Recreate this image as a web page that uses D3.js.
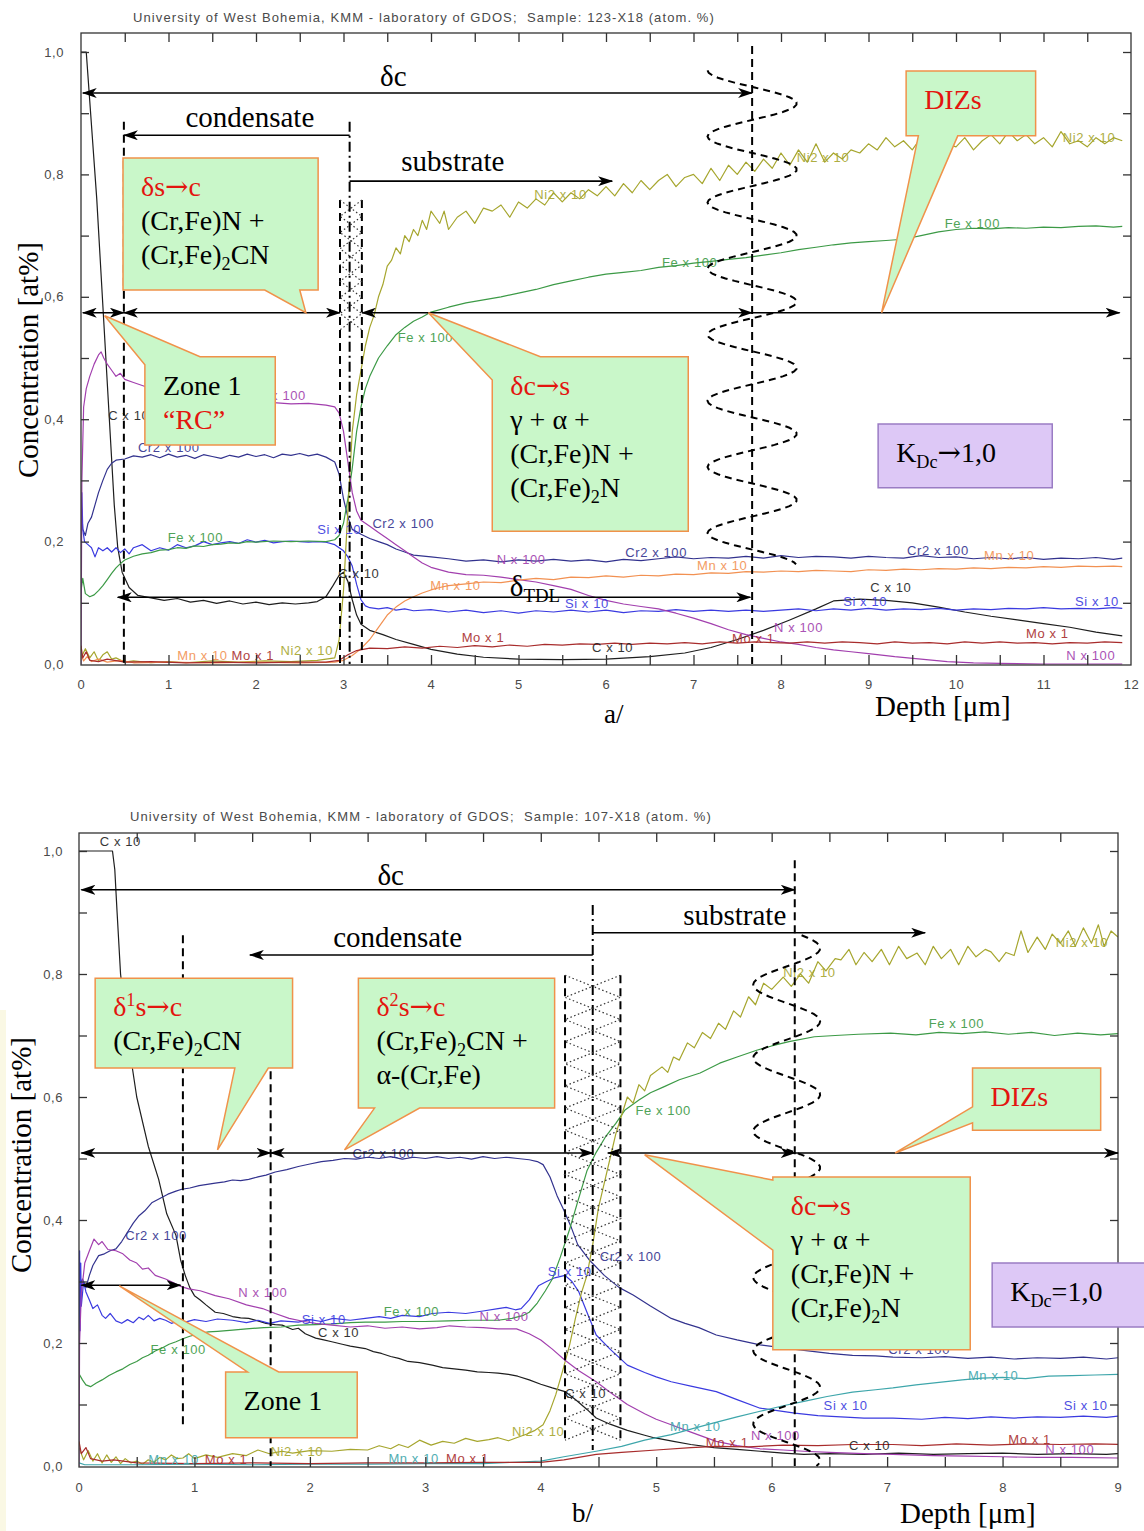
<!DOCTYPE html>
<html>
<head>
<meta charset="utf-8">
<script src="https://cdn.jsdelivr.net/npm/d3@7"></script>
<style>
  body { margin: 0; background: #fff; }
  svg { display: block; }
  .small { font-family: Arial, "Liberation Sans", sans-serif; font-size: 13px; letter-spacing: 0.6px; }
  .title { font-family: Arial, "Liberation Sans", sans-serif; font-size: 13px; letter-spacing: 1.1px; }
  .serif { font-family: "Liberation Serif", "Times New Roman", serif; }
</style>
</head>
<body>
<script>
// ---------- a/ : sample 123-X18, depth 0..12 um  ([depth, concentration])
const topC = [[0,1.0],[0.06,1.0],[0.08,0.96],[0.1,0.92],[0.14,0.84],[0.18,0.76],[0.22,0.66],[0.26,0.56],[0.3,0.46],[0.34,0.36],[0.38,0.26],[0.42,0.19],[0.47,0.15],[0.55,0.125],[0.65,0.112],[0.8,0.108],[0.95,0.104],[1.1,0.107],[1.25,0.101],[1.4,0.104],[1.55,0.099],[1.7,0.103],[1.85,0.098],[2.0,0.101],[2.15,0.097],[2.3,0.1],[2.45,0.098],[2.6,0.1],[2.7,0.102],[2.8,0.11],[2.88,0.128],[2.95,0.145],[3.0,0.15],[3.05,0.135],[3.1,0.105],[3.15,0.08],[3.2,0.065],[3.3,0.055],[3.45,0.048],[3.6,0.04],[3.8,0.032],[4.0,0.024],[4.3,0.016],[4.6,0.011],[5.0,0.008],[5.5,0.007],[6.0,0.008],[6.5,0.012],[6.9,0.018],[7.2,0.027],[7.5,0.04],[7.8,0.055],[8.1,0.072],[8.4,0.09],[8.6,0.103],[8.9,0.106],[9.2,0.104],[9.5,0.1],[9.8,0.093],[10.1,0.085],[10.4,0.078],[10.7,0.072],[11.0,0.066],[11.3,0.06],[11.6,0.052],[11.9,0.046]]
const topCr2 = [[0,0.27],[0.02,0.22],[0.05,0.21],[0.08,0.23],[0.12,0.24],[0.16,0.26],[0.2,0.28],[0.25,0.3],[0.3,0.318],[0.35,0.328],[0.4,0.333],[0.5,0.335],[0.6,0.34],[0.7,0.338],[0.8,0.342],[0.9,0.337],[1.0,0.343],[1.1,0.338],[1.2,0.341],[1.3,0.336],[1.4,0.342],[1.5,0.339],[1.6,0.336],[1.7,0.341],[1.8,0.338],[1.9,0.343],[2.0,0.339],[2.1,0.342],[2.2,0.337],[2.3,0.343],[2.4,0.341],[2.5,0.344],[2.6,0.34],[2.7,0.343],[2.8,0.338],[2.9,0.33],[2.95,0.31],[3.0,0.27],[3.05,0.24],[3.1,0.22],[3.2,0.212],[3.3,0.205],[3.4,0.2],[3.5,0.195],[3.6,0.188],[3.7,0.183],[3.8,0.178],[4.0,0.175],[4.2,0.172],[4.4,0.168],[4.6,0.17],[4.8,0.167],[5.0,0.17],[5.2,0.168],[5.4,0.171],[5.6,0.168],[5.8,0.17],[6.0,0.167],[6.2,0.171],[6.4,0.169],[6.6,0.172],[6.8,0.175],[7.0,0.172],[7.2,0.174],[7.4,0.173],[7.6,0.176],[7.8,0.173],[8.0,0.177],[8.2,0.174],[8.4,0.176],[8.6,0.175],[8.8,0.173],[9.0,0.176],[9.2,0.174],[9.4,0.173],[9.6,0.177],[9.8,0.174],[10.0,0.175],[10.2,0.172],[10.4,0.174],[10.6,0.172],[10.8,0.174],[11.0,0.171],[11.2,0.173],[11.4,0.172],[11.6,0.174],[11.8,0.171],[11.9,0.173]]
const topSi = [[0,0.2],[0.01,0.28],[0.02,0.22],[0.04,0.2],[0.08,0.195],[0.12,0.19],[0.16,0.175],[0.2,0.19],[0.25,0.185],[0.3,0.19],[0.35,0.183],[0.4,0.19],[0.45,0.182],[0.5,0.188],[0.55,0.18],[0.6,0.19],[0.7,0.195],[0.8,0.185],[0.9,0.19],[1.0,0.186],[1.1,0.195],[1.2,0.19],[1.3,0.193],[1.4,0.2],[1.5,0.195],[1.6,0.198],[1.7,0.2],[1.8,0.197],[1.9,0.203],[2.0,0.199],[2.1,0.202],[2.2,0.198],[2.3,0.2],[2.4,0.201],[2.5,0.2],[2.6,0.199],[2.7,0.2],[2.8,0.199],[2.9,0.195],[2.95,0.19],[3.0,0.185],[3.05,0.175],[3.1,0.16],[3.15,0.13],[3.2,0.105],[3.25,0.095],[3.3,0.092],[3.4,0.09],[3.5,0.092],[3.6,0.088],[3.7,0.09],[3.8,0.087],[4.0,0.089],[4.2,0.085],[4.4,0.088],[4.6,0.084],[4.8,0.087],[5.0,0.083],[5.2,0.087],[5.4,0.085],[5.6,0.088],[5.8,0.085],[6.0,0.088],[6.2,0.084],[6.4,0.087],[6.6,0.086],[6.8,0.089],[7.0,0.086],[7.2,0.088],[7.4,0.086],[7.6,0.088],[7.8,0.086],[8.0,0.088],[8.2,0.09],[8.4,0.087],[8.6,0.09],[8.8,0.088],[9.0,0.091],[9.2,0.088],[9.4,0.09],[9.6,0.089],[9.8,0.091],[10.0,0.088],[10.2,0.09],[10.4,0.089],[10.6,0.091],[10.8,0.09],[11.0,0.092],[11.2,0.09],[11.4,0.091],[11.6,0.09],[11.8,0.092],[11.9,0.091]]
const topFe = [[0,0.12],[0.02,0.14],[0.05,0.115],[0.1,0.11],[0.15,0.113],[0.2,0.12],[0.25,0.128],[0.3,0.138],[0.35,0.148],[0.4,0.157],[0.45,0.164],[0.5,0.17],[0.6,0.176],[0.7,0.18],[0.8,0.182],[0.9,0.186],[1.0,0.187],[1.1,0.19],[1.2,0.189],[1.3,0.193],[1.4,0.192],[1.5,0.195],[1.6,0.196],[1.7,0.198],[1.8,0.197],[1.9,0.2],[2.0,0.199],[2.2,0.201],[2.4,0.2],[2.6,0.201],[2.8,0.2],[2.9,0.203],[2.95,0.21],[3.0,0.23],[3.05,0.27],[3.1,0.32],[3.15,0.38],[3.2,0.42],[3.25,0.45],[3.3,0.47],[3.4,0.5],[3.5,0.52],[3.6,0.538],[3.7,0.55],[3.8,0.56],[3.9,0.567],[4.0,0.575],[4.2,0.583],[4.4,0.59],[4.6,0.595],[4.8,0.6],[5.0,0.606],[5.2,0.612],[5.4,0.62],[5.6,0.626],[5.8,0.632],[6.0,0.637],[6.2,0.64],[6.4,0.643],[6.6,0.648],[6.8,0.651],[7.0,0.655],[7.2,0.658],[7.4,0.661],[7.6,0.664],[7.8,0.668],[8.0,0.672],[8.2,0.677],[8.4,0.681],[8.6,0.685],[8.8,0.688],[9.0,0.69],[9.2,0.692],[9.4,0.694],[9.6,0.7],[9.8,0.706],[10.0,0.71],[10.2,0.712],[10.4,0.711],[10.6,0.713],[10.8,0.712],[11.0,0.714],[11.2,0.713],[11.4,0.715],[11.6,0.716],[11.8,0.714],[11.9,0.715]]
const topNi2 = [[0,0.01],[0.05,0.025],[0.1,0.01],[0.15,0.02],[0.2,0.005],[0.25,0.015],[0.3,0.02],[0.35,0.008],[0.4,0.01],[0.5,0.003],[0.6,0.005],[0.8,0.002],[1.0,0.004],[1.2,0.002],[1.5,0.005],[1.8,0.003],[2.1,0.005],[2.4,0.004],[2.7,0.006],[2.9,0.01],[2.95,0.04],[3.0,0.12],[3.05,0.25],[3.1,0.38],[3.15,0.44],[3.2,0.48],[3.25,0.52],[3.3,0.55],[3.35,0.57],[3.4,0.6],[3.45,0.62],[3.5,0.65],[3.55,0.66],[3.6,0.68],[3.65,0.67],[3.7,0.7],[3.75,0.69],[3.8,0.71],[3.85,0.7],[3.9,0.725],[3.95,0.71],[4.0,0.74],[4.05,0.73],[4.1,0.72],[4.15,0.74],[4.2,0.71],[4.3,0.73],[4.4,0.74],[4.5,0.72],[4.6,0.745],[4.7,0.74],[4.8,0.75],[4.9,0.73],[5.0,0.755],[5.1,0.745],[5.2,0.76],[5.3,0.75],[5.4,0.77],[5.5,0.755],[5.6,0.77],[5.7,0.76],[5.8,0.775],[5.9,0.765],[6.0,0.78],[6.1,0.765],[6.2,0.785],[6.3,0.77],[6.4,0.79],[6.5,0.775],[6.6,0.79],[6.7,0.8],[6.8,0.78],[6.9,0.795],[7.0,0.8],[7.1,0.785],[7.2,0.81],[7.3,0.79],[7.4,0.815],[7.5,0.8],[7.6,0.82],[7.7,0.805],[7.8,0.825],[7.9,0.81],[8.0,0.835],[8.1,0.815],[8.2,0.84],[8.3,0.82],[8.4,0.85],[8.5,0.82],[8.6,0.835],[8.7,0.825],[8.8,0.84],[8.9,0.835],[9.0,0.85],[9.1,0.84],[9.2,0.86],[9.3,0.845],[9.4,0.855],[9.5,0.84],[9.6,0.86],[9.7,0.845],[9.8,0.87],[9.9,0.85],[10.0,0.845],[10.1,0.86],[10.2,0.84],[10.3,0.855],[10.4,0.865],[10.5,0.85],[10.6,0.87],[10.7,0.855],[10.8,0.865],[10.9,0.85],[11.0,0.86],[11.1,0.845],[11.2,0.87],[11.3,0.85],[11.4,0.855],[11.5,0.845],[11.6,0.86],[11.7,0.85],[11.8,0.86],[11.9,0.855]]
const topN = [[0,0.0],[0.01,0.3],[0.03,0.42],[0.06,0.45],[0.1,0.47],[0.15,0.49],[0.2,0.505],[0.23,0.51],[0.26,0.5],[0.3,0.49],[0.35,0.48],[0.4,0.47],[0.45,0.475],[0.5,0.465],[0.6,0.46],[0.7,0.455],[0.8,0.45],[0.9,0.448],[1.0,0.445],[1.2,0.44],[1.4,0.438],[1.6,0.432],[1.8,0.43],[2.0,0.428],[2.2,0.427],[2.4,0.425],[2.6,0.426],[2.8,0.423],[2.9,0.42],[2.95,0.41],[3.0,0.38],[3.05,0.33],[3.1,0.28],[3.15,0.25],[3.2,0.235],[3.3,0.225],[3.4,0.215],[3.5,0.205],[3.6,0.195],[3.7,0.185],[3.8,0.175],[3.9,0.165],[4.0,0.158],[4.2,0.15],[4.4,0.146],[4.6,0.145],[4.8,0.142],[5.0,0.138],[5.2,0.134],[5.4,0.128],[5.6,0.122],[5.8,0.112],[6.0,0.104],[6.2,0.098],[6.4,0.094],[6.6,0.09],[6.8,0.083],[7.0,0.075],[7.2,0.066],[7.4,0.056],[7.6,0.048],[7.8,0.042],[8.0,0.036],[8.2,0.032],[8.4,0.027],[8.6,0.023],[8.8,0.02],[9.0,0.017],[9.3,0.012],[9.6,0.008],[9.9,0.004],[10.2,0.002],[10.5,0.001],[11.0,0.0],[11.5,0.0],[11.9,0.0]]
const topMn = [[0,0.015],[0.03,0.005],[0.07,0.012],[0.12,0.004],[0.2,0.008],[0.3,0.003],[0.45,0.006],[0.6,0.002],[1.0,0.003],[1.5,0.002],[2.0,0.003],[2.5,0.002],[2.9,0.003],[3.0,0.006],[3.1,0.014],[3.2,0.025],[3.3,0.04],[3.4,0.06],[3.5,0.08],[3.6,0.093],[3.7,0.103],[3.8,0.11],[3.9,0.116],[4.0,0.121],[4.1,0.125],[4.2,0.128],[4.4,0.131],[4.6,0.134],[4.8,0.133],[5.0,0.137],[5.2,0.14],[5.4,0.138],[5.6,0.142],[5.8,0.141],[6.0,0.144],[6.2,0.142],[6.4,0.145],[6.6,0.144],[6.8,0.147],[7.0,0.146],[7.2,0.149],[7.4,0.148],[7.6,0.151],[7.8,0.15],[8.0,0.152],[8.2,0.151],[8.4,0.153],[8.6,0.152],[8.8,0.151],[9.0,0.154],[9.2,0.153],[9.4,0.155],[9.6,0.154],[9.8,0.156],[10.0,0.155],[10.2,0.157],[10.4,0.156],[10.6,0.158],[10.8,0.157],[11.0,0.159],[11.2,0.158],[11.4,0.16],[11.6,0.159],[11.8,0.16],[11.9,0.159]]
const topMo = [[0,0.03],[0.02,0.01],[0.06,0.02],[0.1,0.006],[0.2,0.004],[0.3,0.008],[0.5,0.003],[0.8,0.004],[1.2,0.002],[1.6,0.003],[2.0,0.002],[2.4,0.003],[2.8,0.003],[2.95,0.006],[3.05,0.015],[3.15,0.022],[3.3,0.026],[3.5,0.025],[3.7,0.028],[3.9,0.026],[4.1,0.029],[4.3,0.027],[4.5,0.03],[4.7,0.028],[4.9,0.031],[5.1,0.029],[5.3,0.032],[5.5,0.031],[5.7,0.033],[5.9,0.032],[6.1,0.034],[6.3,0.032],[6.5,0.034],[6.7,0.033],[6.9,0.035],[7.1,0.033],[7.3,0.036],[7.5,0.034],[7.7,0.036],[7.9,0.035],[8.1,0.034],[8.3,0.036],[8.5,0.034],[8.7,0.036],[8.9,0.035],[9.1,0.033],[9.3,0.036],[9.5,0.034],[9.7,0.035],[9.9,0.033],[10.1,0.036],[10.3,0.034],[10.5,0.036],[10.7,0.034],[10.9,0.035],[11.1,0.033],[11.3,0.035],[11.5,0.034],[11.7,0.036],[11.9,0.035]]

// curve labels: [text, element, depth, concentration]
const topLabels = [
  ['C x 10','C',0.31,0.399],['Cr2 x 100','Cr2',0.65,0.346],['N x 100','N',2.01,0.431],['Fe x 100','Fe',0.99,0.199],
  ['Si x 10','Si',2.7,0.212],['Cr2 x 100','Cr2',3.33,0.222],['C x 10','C',2.94,0.141],['Mn x 10','Mn',3.99,0.121],
  ['N x 100','N',4.75,0.163],['Si x 10','Si',5.53,0.092],['Mo x 1','Mo',4.35,0.036],['C x 10','C',5.84,0.02],
  ['Cr2 x 100','Cr2',6.22,0.175],['Mn x 10','Mn',7.04,0.154],['Mo x 1','Mo',7.44,0.034],['N x 100','N',7.92,0.052],
  ['Cr2 x 100','Cr2',9.44,0.178],['Mn x 10','Mn',10.32,0.17],['C x 10','C',9.02,0.118],['Si x 10','Si',8.71,0.095],
  ['Si x 10','Si',11.36,0.095],['Mo x 1','Mo',10.8,0.042],['N x 100','N',11.26,0.007],['Mn x 10','Mn',1.1,0.007],
  ['Mo x 1','Mo',1.72,0.007],['Ni2 x 10','Ni2',2.28,0.015],['Fe x 100','Fe',3.62,0.526],['Fe x 100','Fe',6.64,0.649],
  ['Fe x 100','Fe',9.87,0.712],['Ni2 x 10','Ni2',5.18,0.76],['Ni2 x 10','Ni2',8.18,0.82],['Ni2 x 10','Ni2',11.22,0.853]
]

// ---------- b/ : sample 107-X18, depth 0..9 um
const botC = [[0,1.0],[0.1,1.0],[0.2,1.0],[0.29,1.0],[0.31,0.97],[0.33,0.9],[0.36,0.8],[0.42,0.7],[0.5,0.6],[0.6,0.52],[0.69,0.466],[0.76,0.41],[0.84,0.375],[0.88,0.335],[0.92,0.31],[0.96,0.29],[1.0,0.277],[1.05,0.27],[1.1,0.262],[1.18,0.25],[1.25,0.248],[1.33,0.243],[1.4,0.241],[1.47,0.24],[1.55,0.236],[1.62,0.232],[1.7,0.23],[1.76,0.229],[1.85,0.222],[1.9,0.224],[1.96,0.215],[2.05,0.208],[2.12,0.205],[2.19,0.202],[2.28,0.198],[2.35,0.195],[2.48,0.191],[2.55,0.186],[2.62,0.183],[2.7,0.178],[2.77,0.175],[2.85,0.17],[2.95,0.168],[3.06,0.164],[3.15,0.16],[3.25,0.158],[3.35,0.156],[3.45,0.153],[3.55,0.152],[3.63,0.151],[3.72,0.149],[3.8,0.146],[3.9,0.14],[4.0,0.133],[4.1,0.127],[4.21,0.121],[4.3,0.108],[4.4,0.092],[4.48,0.078],[4.6,0.068],[4.75,0.058],[4.9,0.05],[4.98,0.046],[5.15,0.04],[5.3,0.035],[5.5,0.03],[5.7,0.027],[5.9,0.024],[6.1,0.021],[6.28,0.019],[6.5,0.02],[6.8,0.019],[7.1,0.021],[7.4,0.019],[7.7,0.02],[8.0,0.021],[8.3,0.019],[8.6,0.02],[8.9,0.019],[9.0,0.02]]
const botCr2 = [[0,0.22],[0.02,0.3],[0.03,0.304],[0.06,0.29],[0.09,0.31],[0.12,0.326],[0.17,0.342],[0.22,0.345],[0.27,0.35],[0.32,0.353],[0.37,0.365],[0.42,0.38],[0.47,0.395],[0.52,0.407],[0.57,0.415],[0.63,0.428],[0.7,0.435],[0.77,0.442],[0.84,0.447],[0.89,0.45],[0.96,0.452],[1.04,0.456],[1.11,0.458],[1.18,0.46],[1.26,0.462],[1.33,0.465],[1.4,0.464],[1.47,0.466],[1.55,0.47],[1.62,0.473],[1.7,0.478],[1.8,0.482],[1.9,0.487],[2.0,0.491],[2.1,0.495],[2.2,0.497],[2.3,0.5],[2.4,0.499],[2.5,0.502],[2.6,0.5],[2.7,0.503],[2.8,0.499],[2.9,0.502],[3.0,0.5],[3.1,0.503],[3.2,0.5],[3.3,0.502],[3.4,0.499],[3.5,0.503],[3.6,0.5],[3.7,0.502],[3.8,0.5],[3.9,0.498],[3.97,0.495],[4.02,0.49],[4.08,0.47],[4.14,0.44],[4.2,0.416],[4.26,0.39],[4.32,0.36],[4.42,0.335],[4.55,0.31],[4.68,0.29],[4.8,0.278],[4.95,0.26],[5.13,0.24],[5.25,0.232],[5.37,0.225],[5.52,0.213],[5.7,0.205],[5.9,0.197],[6.1,0.192],[6.28,0.188],[6.5,0.183],[6.7,0.18],[6.9,0.179],[7.05,0.177],[7.3,0.176],[7.5,0.178],[7.7,0.175],[7.9,0.177],[8.1,0.174],[8.3,0.176],[8.5,0.175],[8.7,0.177],[8.9,0.174],[9.0,0.176]]
const botSi = [[0,0.2],[0.005,0.35],[0.01,0.22],[0.015,0.33],[0.02,0.26],[0.04,0.3],[0.06,0.283],[0.09,0.27],[0.12,0.256],[0.16,0.262],[0.2,0.245],[0.23,0.24],[0.27,0.248],[0.32,0.236],[0.37,0.232],[0.42,0.238],[0.47,0.233],[0.52,0.242],[0.56,0.238],[0.6,0.245],[0.65,0.236],[0.7,0.24],[0.75,0.237],[0.8,0.232],[0.86,0.236],[0.92,0.234],[1.0,0.238],[1.1,0.235],[1.2,0.239],[1.33,0.237],[1.45,0.233],[1.55,0.237],[1.65,0.232],[1.75,0.236],[1.9,0.234],[2.0,0.238],[2.1,0.235],[2.2,0.24],[2.35,0.237],[2.48,0.24],[2.6,0.243],[2.7,0.24],[2.8,0.245],[2.95,0.243],[3.06,0.248],[3.2,0.25],[3.35,0.248],[3.5,0.252],[3.63,0.256],[3.7,0.258],[3.78,0.254],[3.83,0.256],[3.9,0.27],[3.98,0.293],[4.05,0.3],[4.12,0.306],[4.21,0.31],[4.27,0.3],[4.33,0.283],[4.4,0.25],[4.48,0.213],[4.6,0.19],[4.75,0.164],[4.9,0.152],[5.0,0.145],[5.13,0.137],[5.3,0.13],[5.52,0.121],[5.7,0.108],[5.9,0.094],[6.05,0.09],[6.2,0.086],[6.4,0.082],[6.6,0.08],[6.8,0.078],[7.05,0.078],[7.3,0.076],[7.5,0.079],[7.7,0.077],[7.9,0.08],[8.1,0.078],[8.3,0.08],[8.5,0.079],[8.7,0.081],[8.9,0.079],[9.0,0.081]]
const botFe = [[0,0.15],[0.03,0.14],[0.06,0.132],[0.1,0.129],[0.15,0.135],[0.2,0.14],[0.26,0.147],[0.32,0.153],[0.38,0.158],[0.44,0.165],[0.5,0.17],[0.55,0.176],[0.6,0.18],[0.66,0.187],[0.72,0.192],[0.78,0.198],[0.84,0.202],[0.9,0.207],[0.96,0.211],[1.04,0.215],[1.12,0.218],[1.2,0.219],[1.33,0.221],[1.45,0.223],[1.6,0.225],[1.75,0.226],[1.9,0.229],[2.05,0.23],[2.2,0.231],[2.35,0.233],[2.48,0.234],[2.65,0.234],[2.8,0.235],[3.0,0.235],[3.2,0.236],[3.4,0.237],[3.63,0.237],[3.75,0.24],[3.85,0.245],[3.9,0.25],[3.97,0.265],[4.04,0.285],[4.1,0.304],[4.17,0.34],[4.25,0.385],[4.32,0.43],[4.4,0.48],[4.48,0.51],[4.56,0.535],[4.65,0.557],[4.73,0.579],[4.85,0.595],[4.95,0.607],[5.06,0.616],[5.2,0.628],[5.38,0.639],[5.55,0.655],[5.7,0.665],[5.87,0.676],[6.0,0.683],[6.15,0.69],[6.37,0.698],[6.55,0.7],[6.75,0.702],[7.03,0.704],[7.25,0.701],[7.45,0.705],[7.65,0.703],[7.85,0.706],[8.05,0.702],[8.25,0.705],[8.45,0.7],[8.65,0.704],[8.85,0.701],[9.0,0.703]]
const botNi2 = [[0,0.03],[0.04,0.01],[0.08,0.025],[0.12,0.008],[0.16,0.02],[0.2,0.005],[0.24,0.018],[0.28,0.006],[0.32,0.015],[0.36,0.004],[0.4,0.012],[0.45,0.005],[0.5,0.008],[0.55,0.003],[0.6,0.01],[0.65,0.006],[0.7,0.014],[0.75,0.01],[0.8,0.018],[0.85,0.012],[0.9,0.013],[0.95,0.02],[1.0,0.012],[1.1,0.018],[1.2,0.014],[1.33,0.02],[1.45,0.017],[1.55,0.026],[1.65,0.02],[1.76,0.024],[1.85,0.021],[2.0,0.025],[2.19,0.024],[2.35,0.027],[2.5,0.026],[2.6,0.033],[2.7,0.028],[2.77,0.035],[2.85,0.03],[2.95,0.042],[3.05,0.034],[3.15,0.04],[3.25,0.037],[3.35,0.045],[3.45,0.04],[3.55,0.043],[3.63,0.046],[3.72,0.041],[3.79,0.046],[3.88,0.052],[3.95,0.058],[4.02,0.067],[4.08,0.09],[4.13,0.116],[4.19,0.155],[4.25,0.197],[4.3,0.24],[4.35,0.28],[4.4,0.31],[4.45,0.36],[4.5,0.42],[4.55,0.46],[4.6,0.5],[4.65,0.54],[4.7,0.57],[4.75,0.6],[4.8,0.59],[4.85,0.62],[4.9,0.61],[4.95,0.635],[5.05,0.649],[5.1,0.64],[5.15,0.665],[5.2,0.66],[5.27,0.688],[5.33,0.68],[5.4,0.705],[5.47,0.695],[5.54,0.72],[5.6,0.71],[5.67,0.74],[5.73,0.73],[5.8,0.763],[5.86,0.75],[5.93,0.785],[6.0,0.775],[6.1,0.795],[6.17,0.78],[6.25,0.8],[6.32,0.785],[6.4,0.82],[6.47,0.805],[6.55,0.825],[6.6,0.823],[6.67,0.84],[6.73,0.815],[6.8,0.835],[6.87,0.82],[6.95,0.84],[7.02,0.815],[7.1,0.845],[7.17,0.825],[7.26,0.834],[7.33,0.815],[7.4,0.845],[7.47,0.825],[7.55,0.84],[7.62,0.815],[7.7,0.845],[7.77,0.828],[7.85,0.84],[7.9,0.836],[7.97,0.82],[8.03,0.835],[8.1,0.83],[8.16,0.87],[8.22,0.835],[8.3,0.86],[8.37,0.84],[8.43,0.865],[8.5,0.85],[8.57,0.87],[8.63,0.845],[8.7,0.875],[8.77,0.85],[8.83,0.88],[8.88,0.845],[8.94,0.87],[9.0,0.86]]
const botN = [[0,0.0],[0.005,0.2],[0.02,0.28],[0.05,0.33],[0.09,0.35],[0.13,0.369],[0.17,0.36],[0.2,0.365],[0.25,0.352],[0.32,0.35],[0.38,0.345],[0.44,0.335],[0.5,0.33],[0.55,0.32],[0.6,0.322],[0.66,0.31],[0.75,0.304],[0.82,0.298],[0.88,0.292],[0.95,0.288],[1.05,0.285],[1.18,0.277],[1.3,0.272],[1.45,0.262],[1.59,0.256],[1.7,0.248],[1.82,0.24],[1.95,0.235],[2.05,0.232],[2.19,0.229],[2.35,0.226],[2.5,0.228],[2.65,0.224],[2.8,0.226],[2.95,0.223],[3.1,0.225],[3.21,0.228],[3.35,0.226],[3.5,0.225],[3.63,0.223],[3.79,0.223],[3.9,0.215],[4.0,0.205],[4.1,0.19],[4.21,0.172],[4.33,0.155],[4.48,0.137],[4.6,0.12],[4.75,0.1],[4.9,0.085],[5.0,0.076],[5.13,0.067],[5.3,0.055],[5.52,0.04],[5.7,0.033],[5.9,0.028],[6.1,0.026],[6.28,0.024],[6.5,0.022],[6.8,0.02],[7.05,0.019],[7.4,0.017],[7.7,0.016],[8.0,0.015],[8.3,0.014],[8.6,0.014],[9.0,0.013]]
const botMn = [[0,0.005],[0.05,0.002],[0.5,0.002],[1,0.003],[1.5,0.002],[2,0.003],[2.5,0.003],[3,0.004],[3.5,0.004],[4.0,0.008],[4.2,0.015],[4.48,0.024],[4.7,0.032],[4.9,0.042],[5.13,0.051],[5.3,0.06],[5.5,0.07],[5.7,0.08],[5.9,0.089],[6.1,0.098],[6.3,0.106],[6.48,0.113],[6.7,0.12],[6.9,0.124],[7.05,0.127],[7.25,0.132],[7.45,0.136],[7.65,0.14],[7.82,0.143],[8.0,0.144],[8.2,0.142],[8.4,0.146],[8.6,0.147],[8.8,0.148],[9.0,0.149]]
const botMo = [[0,0.04],[0.02,0.02],[0.06,0.03],[0.1,0.012],[0.2,0.008],[0.3,0.01],[0.5,0.005],[1,0.004],[1.5,0.005],[2,0.004],[2.5,0.005],[3,0.005],[3.5,0.006],[4.0,0.006],[4.2,0.01],[4.48,0.019],[4.7,0.022],[5.0,0.026],[5.3,0.03],[5.52,0.032],[5.8,0.031],[6.1,0.034],[6.4,0.033],[6.7,0.035],[7.05,0.035],[7.3,0.033],[7.6,0.036],[7.9,0.034],[8.2,0.036],[8.5,0.035],[8.8,0.036],[9.0,0.035]]

const botLabels = [
  ['C x 10','C',0.18,1.008],['Cr2 x 100','Cr2',2.37,0.501],['Cr2 x 100','Cr2',0.4,0.367],['N x 100','N',1.38,0.275],
  ['Si x 10','Si',1.93,0.231],['Fe x 100','Fe',2.64,0.244],['N x 100','N',3.47,0.236],['C x 10','C',2.07,0.21],
  ['Fe x 100','Fe',0.62,0.182],['Mn x 10','Mn',0.6,0.003],['Mo x 1','Mo',1.09,0.003],['Ni2 x 10','Ni2',1.66,0.016],
  ['Mn x 10','Mn',2.68,0.005],['Mo x 1','Mo',3.18,0.005],['Ni2 x 10','Ni2',3.75,0.049],['Mn x 10','Mn',5.12,0.057],
  ['Mo x 1','Mo',5.43,0.031],['N x 100','N',5.82,0.042],['C x 10','C',6.67,0.026],['Si x 10','Si',4.06,0.309],
  ['Cr2 x 100','Cr2',4.51,0.333],['C x 10','C',4.21,0.111],['Fe x 100','Fe',4.82,0.571],['Ni2 x 10','Ni2',6.1,0.795],
  ['Fe x 100','Fe',7.36,0.712],['Ni2 x 10','Ni2',8.46,0.844],['Cr2 x 100','Cr2',7.01,0.182],['Mn x 10','Mn',7.7,0.14],
  ['Si x 10','Si',6.45,0.091],['Si x 10','Si',8.53,0.091],['Mo x 1','Mo',8.05,0.036],['N x 100','N',8.37,0.02]
]

// ---------- annotations (data units)
// arrows: [from, to, level, heads]
const topArrows = [[0.02,7.67,0.933,'both'],[3.07,0.49,0.864,'end'],[3.07,6.07,0.789,'end'],
  [0.02,0.49,0.574,'both'],[0.49,2.96,0.574,'both'],[3.21,7.67,0.574,'both'],[7.67,11.87,0.574,'end'],
  [0.42,7.65,0.109,'both']]
const botArrows = [[0.02,6.2,0.937,'both'],[4.45,1.48,0.831,'end'],[4.45,7.33,0.867,'end'],
  [0.02,1.66,0.509,'both'],[1.66,4.45,0.509,'both'],[4.58,6.2,0.509,'both'],[6.2,9.0,0.509,'end'],
  [0.02,0.88,0.294,'both']]
// vertical markers: [depth, from, to, style]
const topVLines = [[7.67,1.01,0,'dash'],[0.49,0.886,0,'dash'],[3.07,0.886,0,'dashdot'],[2.96,0.758,0,'dash'],[3.21,0.758,0,'dash']]
const botVLines = [[6.2,0.985,0,'dash'],[4.45,0.912,0.026,'dashdot'],[0.9,0.863,0.067,'dash'],[1.66,0.79,0,'dash'],[4.21,0.798,0.042,'dash'],[4.69,0.798,0.042,'dash']]
// words: [text, depth, level, anchor]
const topWords = [['δc',3.57,0.944,'middle'],['condensate',1.93,0.877,'middle'],['substrate',4.25,0.806,'middle'],['δ_{TDL}',4.9,0.111,'start']]
const botWords = [['δc',2.7,0.945,'middle'],['condensate',2.76,0.844,'middle'],['substrate',5.68,0.88,'middle']]
// callouts: depth span, level span, pointer tip, pointer base, lines ('!' = red)
const topBoxes = [
  {x:[0.48,2.71], y:[0.827,0.611], tip:[2.57,0.574], base:[[2.1,0.611],[2.5,0.611]], lines:['!δs→c','(Cr,Fe)N +','(Cr,Fe)_{2}CN']},
  {x:[0.73,2.22], y:[0.502,0.358], tip:[0.27,0.569], base:[[0.73,0.489],[1.36,0.502]], lines:['Zone 1','!“RC”']},
  {x:[4.7,6.94], y:[0.502,0.217], tip:[3.97,0.574], base:[[4.7,0.464],[5.25,0.502]], lines:['!δc→s','γ + α +','(Cr,Fe)N +','(Cr,Fe)_{2}N']},
  {x:[9.43,10.91], y:[0.969,0.863], tip:[9.15,0.574], base:[[9.57,0.863],[10.02,0.863]], lines:['!DIZs']},
  {x:[9.11,11.1], y:[0.392,0.288], lines:['K_{Dc}→1,0'], violet:true}
]
const botBoxes = [
  {x:[0.14,1.85], y:[0.793,0.647], tip:[1.2,0.514], base:[[1.35,0.647],[1.64,0.647]], lines:['!δ^{1}s→c','(Cr,Fe)_{2}CN']},
  {x:[2.42,4.12], y:[0.793,0.582], tip:[2.3,0.514], base:[[2.56,0.582],[2.95,0.582]], lines:['!δ^{2}s→c','(Cr,Fe)_{2}CN +','α-(Cr,Fe)']},
  {x:[7.74,8.85], y:[0.647,0.546], tip:[7.07,0.509], base:[[7.74,0.584],[7.74,0.558]], lines:['!DIZs']},
  {x:[1.27,2.41], y:[0.153,0.046], tip:[0.35,0.293], base:[[1.46,0.153],[1.73,0.153]], lines:['Zone 1']},
  {x:[6.01,7.72], y:[0.47,0.189], tip:[4.9,0.506], base:[[6.01,0.465],[6.01,0.351]], lines:['!δc→s','γ + α +','(Cr,Fe)N +','(Cr,Fe)_{2}N']},
  {x:[7.91,9.35], y:[0.33,0.226], lines:['K_{Dc}=1,0'], violet:true}
]

const colors = {C:'#1e1e1e', Cr2:'#32328e', Si:'#3a3ae0', Fe:'#3c9a46', Ni2:'#a6a62e', N:'#a23fae', Mo:'#a82c2c'}

const panels = [
  { id:'a', xMax:12, xRange:[81,1131], yRange:[664,52], frame:[33,665], mn:'#f29152',
    title:'University of West Bohemia, KMM - laboratory of GDOS;  Sample: 123-X18 (atom. %)', titleXY:[133,22],
    series:{C:topC, Cr2:topCr2, Si:topSi, Fe:topFe, Ni2:topNi2, N:topN, Mn:topMn, Mo:topMo},
    labels:topLabels, arrows:topArrows, vlines:topVLines, words:topWords, boxes:topBoxes,
    wave:{cx:7.67, amp:0.51, from:0.97, to:0.163, period:0.108, ref:0.97, sign:-1},
    zigzag:{x:[2.96,3.21], from:0.758, to:0.546, half:0.026},
    ylabel:[38,360], xlabel:[875,716], tag:['a/',604,723], xPad:15, yPad:17 },
  { id:'b', xMax:9, xRange:[79,1118], yRange:[1466,851], frame:[833,1467], mn:'#3ea6ab',
    title:'University of West Bohemia, KMM - laboratory of GDOS;  Sample: 107-X18 (atom. %)', titleXY:[130,821],
    series:{C:botC, Cr2:botCr2, Si:botSi, Fe:botFe, Ni2:botNi2, N:botN, Mn:botMn, Mo:botMo},
    labels:botLabels, arrows:botArrows, vlines:botVLines, words:botWords, boxes:botBoxes,
    wave:{cx:6.13, amp:0.29, from:0.863, to:0.0, period:0.119, ref:0.842, sign:1},
    zigzag:{x:[4.21,4.69], from:0.798, to:0.042, half:0.0366},
    ylabel:[31,1155], xlabel:[900,1523], tag:['b/',572,1522], xPad:16, yPad:16 }
]

const svg = d3.select('body').append('svg').attr('width', 1144).attr('height', 1531)
svg.append('rect').attr('width', 1144).attr('height', 1531).attr('fill', '#fff')
svg.append('rect').attr('x', 0).attr('y', 1010).attr('width', 6).attr('height', 521).attr('fill', '#faf8e4')

const defs = svg.append('defs')
defs.append('marker').attr('id', 'head')
    .attr('viewBox', '0 -5 15 10').attr('refX', 14).attr('refY', 0)
    .attr('markerWidth', 15).attr('markerHeight', 10)
    .attr('markerUnits', 'userSpaceOnUse').attr('orient', 'auto-start-reverse')
  .append('path').attr('d', 'M0,-5L15,0L0,5L4,0Z').attr('fill', '#000')

// "_{..}" subscript, "^{..}" superscript, arrows set in a font that has a full-size glyph
function richText(sel, str, size) {
  const re = /(_|\^)\{([^}]*)\}/g
  let last = 0, m, prev = 0
  const parts = []
  while ((m = re.exec(str))) {
    if (m.index > last) parts.push({ t: str.slice(last, m.index), s: 0 })
    parts.push({ t: m[2], s: m[1] === '_' ? 0.22 : -0.38 })
    last = re.lastIndex
  }
  if (last < str.length) parts.push({ t: str.slice(last), s: 0 })
  parts.forEach(p => {
    p.t.split(/(→)/).filter(t => t.length).forEach(t => {
      const shift = p.s * size
      const ts = sel.append('tspan').attr('dy', shift - prev)
        .attr('font-size', p.s ? size * 0.65 : size).text(t)
      if (t === '→') ts.attr('font-family', '"DejaVu Serif", "DejaVu Sans", serif')
      prev = shift
    })
  })
}

function calloutPath(x0, y0, x1, y1, tip, a, b) {
  const W = x1 - x0, H = y1 - y0, P = 2 * (W + H)
  const snap = p => {
    const d = [Math.abs(p[1] - y0), Math.abs(p[0] - x1), Math.abs(p[1] - y1), Math.abs(p[0] - x0)]
    const i = d.indexOf(Math.min(...d))
    if (i === 0) return { p: [p[0], y0], t: p[0] - x0 }
    if (i === 1) return { p: [x1, p[1]], t: W + p[1] - y0 }
    if (i === 2) return { p: [p[0], y1], t: W + H + x1 - p[0] }
    return { p: [x0, p[1]], t: 2 * W + H + y1 - p[1] }
  }
  let A = snap(a), B = snap(b)
  if (((B.t - A.t + P) % P) > P / 2) [A, B] = [B, A]
  const corners = [[x0, y0, 0], [x1, y0, W], [x1, y1, W + H], [x0, y1, 2 * W + H]]
  const span = (A.t - B.t + P) % P
  const pts = [B.p]
  corners.map(c => [c, (c[2] - B.t + P) % P]).filter(d => d[1] > 0 && d[1] < span)
    .sort((p, q) => p[1] - q[1]).forEach(d => pts.push([d[0][0], d[0][1]]))
  pts.push(A.p, tip)
  return 'M' + pts.join('L') + 'Z'
}

function drawPanel(p) {
  const x = d3.scaleLinear().domain([0, p.xMax]).range(p.xRange)
  const y = d3.scaleLinear().domain([0, 1]).range(p.yRange)
  const [fx0, fx1] = p.xRange, [fy0, fy1] = p.frame
  const colorOf = Object.assign({}, colors, { Mn: p.mn })
  const g = svg.append('g')

  defs.append('clipPath').attr('id', 'clip-' + p.id).append('rect')
    .attr('x', fx0).attr('y', fy0).attr('width', fx1 - fx0).attr('height', fy1 - fy0)

  g.append('text').attr('class', 'title').attr('xml:space', 'preserve').style('white-space', 'pre')
    .attr('x', p.titleXY[0]).attr('y', p.titleXY[1]).attr('fill', '#4a4a4a').text(p.title)

  // profiles
  const line = d3.line().x(d => x(d[0])).y(d => y(d[1]))
  const sg = g.append('g').attr('clip-path', `url(#clip-${p.id})`)
  Object.entries(p.series).forEach(([k, v]) => {
    sg.append('path').attr('d', line(v)).attr('fill', 'none')
      .attr('stroke', colorOf[k]).attr('stroke-width', 1.2).attr('stroke-linejoin', 'round')
  })

  g.append('g').selectAll('text').data(p.labels).join('text')
    .attr('class', 'small').attr('x', d => x(d[2])).attr('y', d => y(d[3]))
    .attr('fill', d => colorOf[d[1]]).attr('opacity', 0.9).text(d => d[0])

  // frame + axes
  g.append('rect').attr('x', fx0).attr('y', fy0).attr('width', fx1 - fx0).attr('height', fy1 - fy0)
    .attr('fill', 'none').attr('stroke', '#333').attr('stroke-width', 1.3)

  const halfTicks = d3.range(0.5, p.xMax, 0.5)
  const tenthTicks = d3.range(0.1, 1.01, 0.1)
  const styleAxis = a => {
    a.select('.domain').remove()
    a.selectAll('line').attr('stroke', '#333').attr('stroke-width', 1.3)
    a.selectAll('text').attr('class', 'small').attr('fill', '#4a4a4a').attr('font-size', null).attr('font-family', null)
  }
  g.append('g').attr('transform', `translate(0,${fy1})`)
    .call(d3.axisBottom(x).tickValues(halfTicks).tickSize(-10).tickFormat('')).call(styleAxis)
  g.append('g').attr('transform', `translate(0,${fy1})`)
    .call(d3.axisBottom(x).ticks(p.xMax).tickSize(0).tickPadding(p.xPad).tickFormat(d3.format('d'))).call(styleAxis)
  g.append('g').attr('transform', `translate(0,${fy0})`)
    .call(d3.axisTop(x).tickValues(halfTicks).tickSize(-9).tickFormat('')).call(styleAxis)
  g.append('g').attr('transform', `translate(${fx0},0)`)
    .call(d3.axisLeft(y).tickValues(tenthTicks).tickSize(-8).tickFormat('')).call(styleAxis)
  g.append('g').attr('transform', `translate(${fx0},0)`)
    .call(d3.axisLeft(y).tickValues([0, 0.2, 0.4, 0.6, 0.8, 1.0]).tickSize(0).tickPadding(p.yPad)
      .tickFormat(d => d3.format('.1f')(d).replace('.', ','))).call(styleAxis)
  g.append('g').attr('transform', `translate(${fx1},0)`)
    .call(d3.axisRight(y).tickValues(tenthTicks).tickSize(-8).tickFormat('')).call(styleAxis)

  g.append('text').attr('class', 'serif').attr('font-size', 29)
    .attr('transform', `translate(${p.ylabel[0]},${p.ylabel[1]}) rotate(-90)`)
    .attr('text-anchor', 'middle').text('Concentration [at%]')
  g.append('text').attr('class', 'serif').attr('font-size', 29)
    .attr('x', p.xlabel[0]).attr('y', p.xlabel[1]).text('Depth [μm]')
  g.append('text').attr('class', 'serif').attr('font-size', 27)
    .attr('x', p.tag[1]).attr('y', p.tag[2]).text(p.tag[0])

  // vertical markers
  g.append('g').selectAll('line').data(p.vlines).join('line')
    .attr('x1', d => x(d[0])).attr('x2', d => x(d[0]))
    .attr('y1', d => y(d[1])).attr('y2', d => y(d[2]))
    .attr('stroke', '#000').attr('stroke-width', 2)
    .attr('stroke-dasharray', d => d[3] === 'dash' ? '8,5' : '10,4,2,4')

  // wavy interface
  const w = p.wave
  const wy = d3.range(w.from, w.to - 0.001, -0.004).concat([w.to])
  const wl = d3.line().x(d => x(w.cx + w.sign * w.amp * Math.cos(2 * Math.PI * (w.ref - d) / w.period))).y(d => y(d))
  g.append('path').attr('d', wl(wy)).attr('fill', 'none').attr('stroke', '#000')
    .attr('stroke-width', 2).attr('stroke-dasharray', '7,5')

  // dotted transition zigzag
  const z = p.zigzag
  const zn = Math.round((z.from - z.to) / z.half)
  ;[0, 1].forEach(k => {
    const pts = d3.range(zn + 1).map(i => [z.x[(i + k) % 2], z.from - i * (z.from - z.to) / zn])
    g.append('path').attr('d', line(pts)).attr('fill', 'none').attr('stroke', '#333')
      .attr('stroke-width', 1.2).attr('stroke-dasharray', '1.5,2.5')
  })

  // arrows
  g.append('g').selectAll('line').data(p.arrows).join('line')
    .attr('x1', d => x(d[0])).attr('x2', d => x(d[1]))
    .attr('y1', d => y(d[2])).attr('y2', d => y(d[2]))
    .attr('stroke', '#000').attr('stroke-width', 1.6)
    .attr('marker-end', 'url(#head)')
    .attr('marker-start', d => d[3] === 'both' ? 'url(#head)' : null)

  p.words.forEach(d => {
    const t = g.append('text').attr('class', 'serif').attr('x', x(d[1])).attr('y', y(d[2]))
      .attr('text-anchor', d[3])
    richText(t, d[0], 29)
  })

  // callouts
  p.boxes.forEach(b => {
    const x0 = x(b.x[0]), x1 = x(b.x[1]), y0 = y(b.y[0]), y1 = y(b.y[1])
    const fill = b.violet ? '#ddc8f6' : '#c9f7c9'
    const stroke = b.violet ? '#9a7cc4' : '#f0924a'
    const d = b.tip
      ? calloutPath(x0, y0, x1, y1, [x(b.tip[0]), y(b.tip[1])], [x(b.base[0][0]), y(b.base[0][1])], [x(b.base[1][0]), y(b.base[1][1])])
      : `M${x0},${y0}H${x1}V${y1}H${x0}Z`
    g.append('path').attr('d', d).attr('fill', fill).attr('stroke', stroke).attr('stroke-width', 1.5)
    b.lines.forEach((s, i) => {
      const red = s.startsWith('!')
      const t = g.append('text').attr('class', 'serif').attr('x', x0 + 18).attr('y', y0 + 38 + i * 34)
        .attr('fill', red ? '#e3150f' : '#000')
      richText(t, red ? s.slice(1) : s, 28)
    })
  })
}

panels.forEach(drawPanel)
</script>
</body>
</html>
